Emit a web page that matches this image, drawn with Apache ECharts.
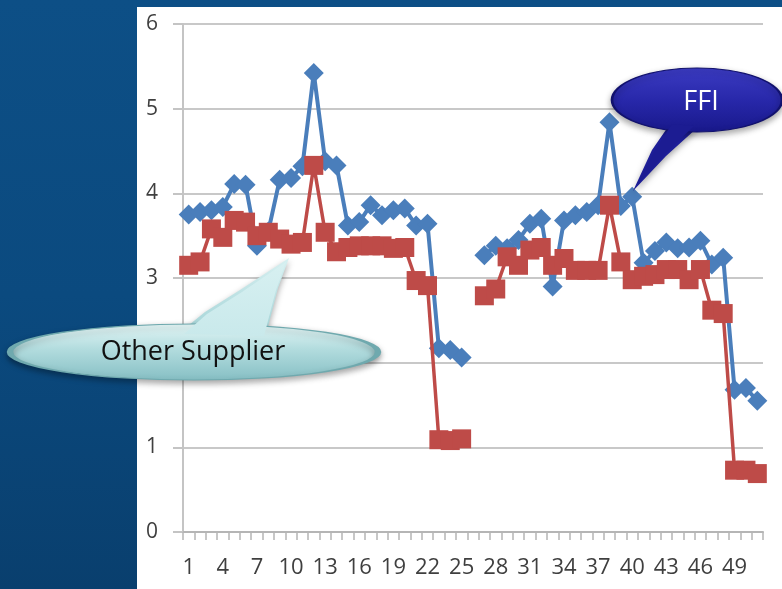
<!DOCTYPE html>
<html>
<head>
<meta charset="utf-8">
<script src="https://cdn.jsdelivr.net/npm/echarts@6/dist/echarts.min.js"></script>
<style>
  html, body { margin: 0; padding: 0; }
  body {
    width: 782px; height: 589px; overflow: hidden;
    background: linear-gradient(180deg, #0d4f86 0%, #0b4a7f 50%, #093f6e 100%);
  }
  #chart { width: 782px; height: 589px; }
</style>
</head>
<body>
<div id="chart"></div>
<script>
// x categories 1..51
var categories = [1, 2, 3, 4, 5, 6, 7, 8, 9, 10, 11, 12, 13, 14, 15, 16, 17, 18, 19, 20,
  21, 22, 23, 24, 25, 26, 27, 28, 29, 30, 31, 32, 33, 34, 35, 36, 37, 38, 39, 40,
  41, 42, 43, 44, 45, 46, 47, 48, 49, 50, 51];

// FFI (blue diamonds)
var ffiValues = [3.75, 3.78, 3.80, 3.84, 4.11, 4.10, 3.38, 3.55, 4.16, 4.18,
  4.32, 5.42, 4.38, 4.33, 3.62, 3.66, 3.86, 3.74, 3.80, 3.82,
  3.62, 3.64, 2.17, 2.15, 2.06, null, 3.27, 3.38, 3.35, 3.45,
  3.64, 3.70, 2.90, 3.68, 3.74, 3.78, 3.86, 4.84, 3.85, 3.96,
  3.18, 3.32, 3.42, 3.35, 3.36, 3.44, 3.16, 3.24, 1.68, 1.70, 1.55];

// Other Supplier (red squares)
var otherValues = [3.15, 3.19, 3.58, 3.48, 3.68, 3.66, 3.50, 3.54, 3.46, 3.40,
  3.42, 4.33, 3.54, 3.31, 3.36, 3.38, 3.38, 3.38, 3.35, 3.36,
  2.97, 2.91, 1.09, 1.08, 1.10, null, 2.79, 2.87, 3.25, 3.15,
  3.33, 3.36, 3.15, 3.23, 3.09, 3.09, 3.09, 3.86, 3.19, 2.98,
  3.02, 3.04, 3.10, 3.10, 2.98, 3.10, 2.62, 2.58, 0.73, 0.73, 0.69];

var yTicks = [0, 1, 2, 3, 4, 5, 6];

var labelFont = '"Open Sans", "Noto Sans", sans-serif';
var shadow = { shadowBlur: 6, shadowColor: 'rgba(0,0,0,0.35)', shadowOffsetY: 3 };

var myChart = echarts.init(document.getElementById('chart'));
myChart.setOption({
  animation: false,
  grid: {
    left: 183,
    right: 19,
    top: 24,
    bottom: 57
  },
  xAxis: {
    type: 'category',
    data: categories,
    boundaryGap: true,
    axisLine: { lineStyle: { color: '#b5b5b5', width: 2 } },
    axisTick: {
      show: true,
      interval: 0, // tick at every category boundary
      length: 8,
      lineStyle: { color: '#b5b5b5', width: 1.5 }
    },
    axisLabel: {
      interval: 2, // 1, 4, 7 ...
      margin: 25,
      color: '#3f3f3f',
      fontSize: 22,
      fontFamily: labelFont
    },
    splitLine: { show: false }
  },
  yAxis: {
    type: 'value',
    min: yTicks[0],
    max: yTicks[yTicks.length - 1],
    interval: 1,
    axisLine: { show: true, lineStyle: { color: '#c4c4c4', width: 2 } },
    axisTick: { show: true, length: 10, lineStyle: { color: '#c4c4c4', width: 2 } },
    axisLabel: {
      margin: 25,
      color: '#3f3f3f',
      fontSize: 21,
      fontFamily: labelFont
    },
    splitLine: { show: true, lineStyle: { color: '#c8c8c8', width: 2 } }
  },
  series: [
    {
      name: 'FFI',
      type: 'line',
      data: ffiValues,
      connectNulls: false,
      showAllSymbol: true,
      symbol: 'diamond',
      symbolSize: 20,
      lineStyle: { color: '#4a7ebb', width: 4 },
      itemStyle: { color: '#4a7ebb' },
      z: 2
    },
    {
      name: 'Other Supplier',
      type: 'line',
      data: otherValues,
      connectNulls: false,
      showAllSymbol: true,
      symbol: 'rect',
      symbolSize: 19,
      lineStyle: { color: '#be4b48', width: 3.5 },
      itemStyle: { color: '#be4b48' },
      z: 3
    }
  ],
  graphic: [
    // white panel behind the plot
    {
      type: 'rect',
      z: -10,
      silent: true,
      shape: { x: 137, y: 7, width: 645, height: 582 },
      style: { fill: '#ffffff' }
    },
    // "Other Supplier" callout
    {
      type: 'polygon',
      z: 100,
      shape: { points: [[178, 334], [205, 312], [240, 290], [289, 258], [278, 288], [266, 334]] },
      style: Object.assign({
        fill: new echarts.graphic.LinearGradient(0, 0, 0, 1, [
          { offset: 0, color: '#d7f0f1' },
          { offset: 1, color: '#a3d3d6' }
        ])
      }, shadow)
    },
    {
      type: 'circle',
      z: 101,
      x: 194, y: 352,
      scaleX: 184 / 28,
      shape: { cx: 0, cy: 0, r: 28 },
      style: Object.assign({
        fill: new echarts.graphic.LinearGradient(0, 0, 0, 1, [
          { offset: 0, color: '#e4f6f6' },
          { offset: 0.45, color: '#b2dcde' },
          { offset: 1, color: '#86bfc4' }
        ]),
        stroke: '#6fa9ae',
        lineWidth: 1,
        strokeNoScale: true
      }, shadow)
    },
    {
      type: 'polygon',
      z: 102,
      shape: { points: [[184, 334], [207, 314], [242, 292], [286, 262], [276, 290], [264, 336]] },
      style: {
        fill: new echarts.graphic.LinearGradient(0, 0, 0, 1, [
          { offset: 0, color: '#d7f0f1' },
          { offset: 1, color: '#c9e9eb' }
        ])
      }
    },
    {
      type: 'text',
      z: 103,
      x: 193, y: 352,
      style: {
        text: 'Other Supplier',
        fill: '#111111',
        font: '27px "Open Sans", "Noto Sans", sans-serif',
        align: 'center',
        verticalAlign: 'middle'
      }
    },
    // "FFI" callout
    {
      type: 'polygon',
      z: 100,
      shape: { points: [[670, 124], [652, 150], [633, 191], [666, 156], [697, 128]] },
      style: Object.assign({ fill: '#1e1e98' }, shadow)
    },
    {
      type: 'circle',
      z: 101,
      x: 697, y: 100,
      scaleX: 85 / 32,
      shape: { cx: 0, cy: 0, r: 32 },
      style: Object.assign({
        fill: new echarts.graphic.LinearGradient(0, 0, 0, 1, [
          { offset: 0, color: '#3b3bc2' },
          { offset: 0.5, color: '#2828aa' },
          { offset: 1, color: '#18188a' }
        ]),
        stroke: '#12126e',
        lineWidth: 1,
        strokeNoScale: true
      }, shadow)
    },
    {
      type: 'polygon',
      z: 102,
      shape: { points: [[672, 124], [655, 150], [636, 186], [665, 154], [694, 126]] },
      style: { fill: '#1c1c92' }
    },
    {
      type: 'text',
      z: 103,
      x: 701, y: 102,
      style: {
        text: 'FFI',
        fill: '#ffffff',
        font: '27px "Open Sans", "Noto Sans", sans-serif',
        align: 'center',
        verticalAlign: 'middle'
      }
    }
  ]
});
</script>
</body>
</html>
